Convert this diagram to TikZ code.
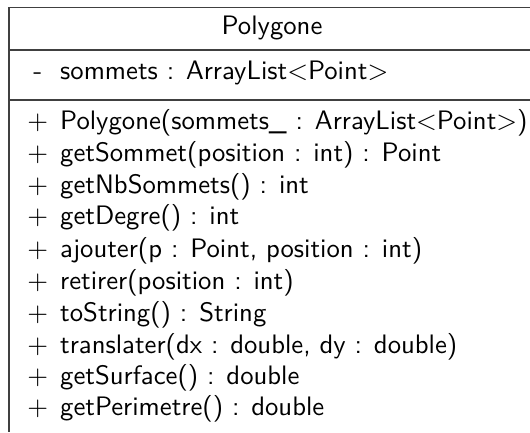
\documentclass[tikz,border=0pt]{standalone}
\usepackage{graphicx}
\begin{document}
\begin{tikzpicture}[x=1pt,y=-1pt,
  rule/.style={draw=black!75, line width=1.3pt},
  txt/.style={inner sep=0pt, font=\fontsize{10}{12}\sffamily, text=black},
  row/.style={txt, anchor=west}]
\useasboundingbox (0,0) rectangle (530,432);
\newcommand{\bigt}[1]{\scalebox{2.67}{#1}}
\newcommand{\vsym}[1]{\makebox[45pt][c]{\bigt{#1}}}
% class frame
\draw[rule] (530,7.5) -- (9,7.5) -- (9,432);
\draw[rule] (9,50) -- (530,50);
\draw[rule] (9,100) -- (530,100);
% title
\node[txt] (title) at (272,28) {\bigt{Polygone}};
% attribute
\node[row] (attr) at (15,73) {\vsym{-}\bigt{sommets : ArrayList$<$Point$>$}};
% methods
\node[row] (m1) at (15,123) {\vsym{$+$}\bigt{Polygone(sommets\_ : ArrayList$<$Point$>$)}};
\node[row] (m2) at (15,155) {\vsym{$+$}\bigt{getSommet(position : int) : Point}};
\node[row] (m3) at (15,187) {\vsym{$+$}\bigt{getNbSommets() : int}};
\node[row] (m4) at (15,218) {\vsym{$+$}\bigt{getDegre() : int}};
\node[row] (m5) at (15,251) {\vsym{$+$}\bigt{ajouter(p : Point, position : int)}};
\node[row] (m6) at (15,283) {\vsym{$+$}\bigt{retirer(position : int)}};
\node[row] (m7) at (15,315) {\vsym{$+$}\bigt{toString() : String}};
\node[row] (m8) at (15,347) {\vsym{$+$}\bigt{translater(dx : double, dy : double)}};
\node[row] (m9) at (15,378) {\vsym{$+$}\bigt{getSurface() : double}};
\node[row] (m10) at (15,409) {\vsym{$+$}\bigt{getPerimetre() : double}};
\end{tikzpicture}
\end{document}
